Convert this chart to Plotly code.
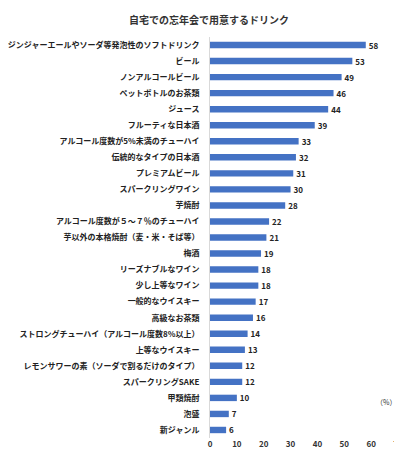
import plotly.graph_objects as go

categories = ["ジンジャーエールやソーダ等発泡性のソフトドリンク","ビール","ノンアルコールビール","ペットボトルのお茶類","ジュース","フルーティな日本酒","アルコール度数が5%未満のチューハイ","伝統的なタイプの日本酒","プレミアムビール","スパークリングワイン","芋焼酎","アルコール度数が５～７％のチューハイ","芋以外の本格焼酎（麦・米・そば等）","梅酒","リーズナブルなワイン","少し上等なワイン","一般的なウイスキー","高級なお茶類","ストロングチューハイ（アルコール度数8%以上）","上等なウイスキー","レモンサワーの素（ソーダで割るだけのタイプ）","スパークリングSAKE","甲類焼酎","泡盛","新ジャンル"]
values = [58,53,49,46,44,39,33,32,31,30,28,22,21,19,18,18,17,16,14,13,12,12,10,7,6]
ticks = [0,10,20,30,40,50,60,70]

font = "Noto Sans CJK JP"
fig = go.Figure(go.Bar(
    x=values, y=categories, orientation="h", width=0.4,
    marker=dict(color="#4472C4", line=dict(width=0)),
    text=values, textposition="outside", cliponaxis=False, constraintext="none",
    textfont=dict(size=8, color="#222", family=font, weight="bold"),
))
fig.update_layout(
    width=402, height=450, paper_bgcolor="white", plot_bgcolor="white",
    margin=dict(l=202, r=12, t=29, b=20),
    title=dict(text="<b>自宅での忘年会で用意するドリンク</b>", x=0.5, xanchor="center", y=0.972, yanchor="middle",
               font=dict(size=10, color="#333", family=font)),
    font=dict(family=font, size=8, color="#333"),
    showlegend=False,
    xaxis=dict(range=[0,70], tickvals=ticks, showgrid=False, zeroline=False, showline=False,
               ticks="", tickfont=dict(size=8, color="#333", weight="bold"), automargin=False),
    yaxis=dict(autorange="reversed", showline=True, linecolor="#d9d9d9", linewidth=1, automargin=False,
               ticks="", ticklabelstandoff=8, tickfont=dict(size=8, color="#222", weight="bold")),
    annotations=[dict(text="（%）", x=70, y=1, xref="x", yref="paper", yanchor="top", xanchor="right",
                      yshift=-358, showarrow=False, font=dict(size=7, color="#333"))],
)
fig.write_html("out.html")
